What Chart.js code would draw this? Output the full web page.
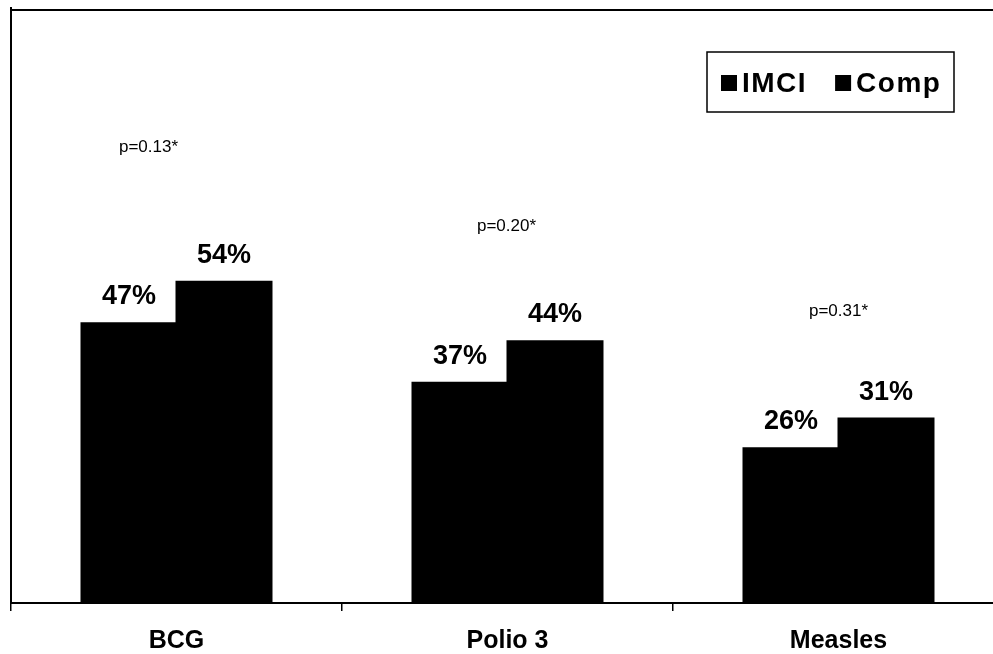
<!DOCTYPE html>
<html>
<head>
<meta charset="utf-8">
<title>Immunization coverage: IMCI vs Comp</title>
<script src="https://cdn.jsdelivr.net/npm/chart.js@4/dist/chart.umd.min.js"></script>
<style>
  html, body { margin: 0; padding: 0; background: #fff; overflow: hidden; }
  #wrap { width: 993px; height: 654px; overflow: hidden; }
  canvas { display: block; }
</style>
</head>
<body>
<div id="wrap"><canvas id="chart" width="1004" height="654"></canvas></div>
<script>
// Vaccines compared between IMCI and comparison districts (% coverage)
const categories = ['BCG', 'Polio 3', 'Measles'];
const imciValues = [47, 37, 26];
const compValues = [54, 44, 31];
const pValueLabels = ['p=0.13*', 'p=0.20*', 'p=0.31*'];
const seriesNames = ['IMCI', 'Comp'];

const FONT = '"Liberation Sans", Arial, Helvetica, sans-serif';

// Percentage labels above each bar
const valueLabels = {
  id: 'valueLabels',
  afterDatasetsDraw(chart) {
    const ctx = chart.ctx;
    ctx.save();
    ctx.fillStyle = '#000';
    ctx.font = 'bold 27px ' + FONT;
    ctx.textAlign = 'center';
    ctx.textBaseline = 'alphabetic';
    chart.data.datasets.forEach((ds, i) => {
      chart.getDatasetMeta(i).data.forEach((bar, j) => {
        ctx.fillText(ds.data[j] + '%', bar.x, bar.y - 19);
      });
    });
    ctx.restore();
  }
};

// p-value notes above each category pair
const pValueNotes = {
  id: 'pValueNotes',
  afterDatasetsDraw(chart, args, opts) {
    const ctx = chart.ctx;
    const xScale = chart.scales.x;
    const yScale = chart.scales.y;
    ctx.save();
    ctx.fillStyle = '#000';
    ctx.font = '17px ' + FONT;
    ctx.textAlign = 'center';
    ctx.textBaseline = 'middle';
    opts.labels.forEach((txt, j) => {
      const top = Math.max(...chart.data.datasets.map(ds => ds.data[j]));
      const x = xScale.getPixelForValue(j) + opts.dx[j];
      const y = yScale.getPixelForValue(top) - opts.rise[j];
      ctx.fillText(txt, x, y);
    });
    ctx.restore();
  }
};

// Top frame line and boxed legend
const frameAndLegend = {
  id: 'frameAndLegend',
  afterDraw(chart, args, opts) {
    const ctx = chart.ctx;
    const area = chart.chartArea;
    ctx.save();
    ctx.strokeStyle = '#000';
    ctx.lineWidth = 2;
    ctx.beginPath();
    ctx.moveTo(area.left, area.top + 2);
    ctx.lineTo(chart.width, area.top + 2);
    ctx.stroke();

    const b = opts.box;
    ctx.lineWidth = 1.5;
    ctx.strokeRect(b.x, b.y, b.w, b.h);

    ctx.font = 'bold 28px ' + FONT;
    ctx.letterSpacing = '1.5px';
    ctx.textBaseline = 'middle';
    ctx.textAlign = 'left';
    let x = b.x + 14;
    const cy = b.y + b.h / 2 + 1;
    chart.data.datasets.forEach(ds => {
      ctx.fillStyle = ds.backgroundColor;
      ctx.fillRect(x, cy - 8, 16, 16);
      x += 21;
      ctx.fillStyle = '#000';
      ctx.fillText(ds.label, x, cy + 1);
      x += ctx.measureText(ds.label).width + 28;
    });
    ctx.restore();
  }
};

new Chart(document.getElementById('chart'), {
  type: 'bar',
  data: {
    labels: categories,
    datasets: [
      { label: seriesNames[0], data: imciValues, backgroundColor: '#000', borderWidth: 0, inflateAmount: 1 },
      { label: seriesNames[1], data: compValues, backgroundColor: '#000', borderWidth: 0, inflateAmount: 1 }
    ]
  },
  options: {
    responsive: false,
    animation: false,
    devicePixelRatio: 1,
    layout: { padding: { left: 11, right: 0, top: 8, bottom: 0 } },
    datasets: { bar: { categoryPercentage: 0.574, barPercentage: 1.0 } },
    scales: {
      x: {
        offset: true,
        grid: { display: true, offset: true, drawOnChartArea: false, drawTicks: true, tickLength: 8, color: '#000', lineWidth: 1.5 },
        border: { display: true, color: '#000', width: 2 },
        ticks: { color: '#000', font: { family: FONT, size: 25, weight: 'bold' }, padding: 15, maxRotation: 0 },
        afterFit(scale) { scale.height = 51; }
      },
      y: {
        min: 0,
        max: 100,
        ticks: { display: false },
        grid: { display: false },
        border: { display: true, color: '#000', width: 2 },
        afterFit(scale) { scale.width = 0; }
      }
    },
    plugins: {
      legend: { display: false },
      tooltip: { enabled: false },
      pValueNotes: { labels: pValueLabels, dx: [-28, -1, 0], rise: [134, 115, 107] },
      frameAndLegend: { box: { x: 707, y: 52, w: 247, h: 60 } }
    }
  },
  plugins: [valueLabels, pValueNotes, frameAndLegend]
});
</script>
</body>
</html>
